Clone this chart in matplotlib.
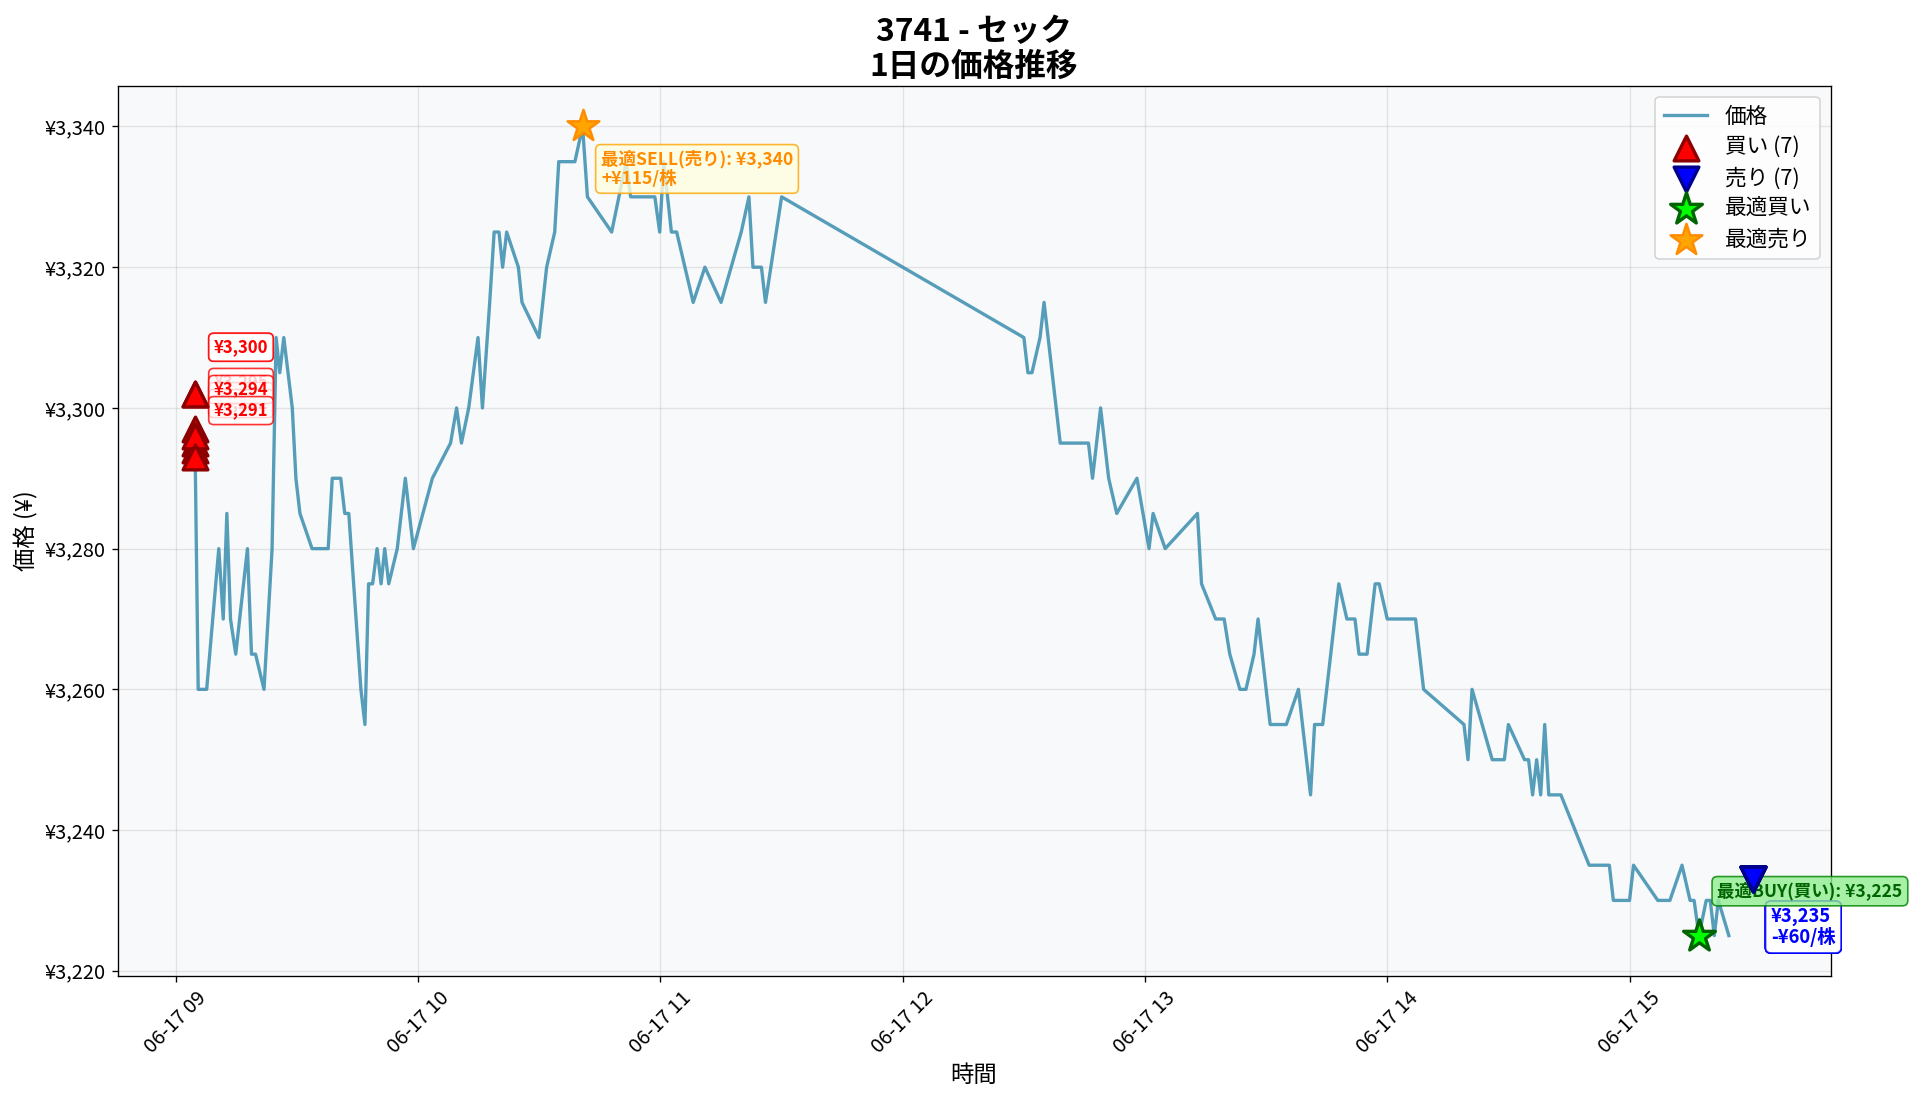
import matplotlib
matplotlib.use("Agg")
import matplotlib.pyplot as plt
import matplotlib.dates as mdates
from matplotlib.ticker import FuncFormatter
from matplotlib.transforms import offset_copy
import numpy as np
import pandas as pd

plt.rcParams['font.family'] = ['Noto Sans CJK JP', 'DejaVu Sans']

day_start = pd.Timestamp("2025-06-17 09:00")

# price series: minutes after 09:00, price in yen
price_min = [4.8, 5.5, 7.6, 10.6, 11.7, 12.6, 13.5, 14.8, 17.7, 18.7, 19.7, 21.8,
             23.8, 24.8, 25.7, 26.7, 28.8, 29.7, 30.7, 33.7, 37.7, 38.7, 40.8, 41.8,
             42.8, 45.8, 46.8, 47.7, 48.7, 49.8, 50.8, 51.7, 52.7, 54.8, 56.8, 58.8,
             63.5, 68.0, 69.5, 70.7, 72.5, 74.8, 75.9, 77.7, 78.8, 80.0, 80.9, 81.9,
             84.8, 85.7, 89.9, 91.8, 93.8, 94.8, 98.8, 100.7, 101.9, 107.9, 111.5, 112.6,
             118.6, 119.8, 120.8, 122.7, 124.0, 128.1, 131.0, 135.0, 140.0, 141.9, 142.9, 145.0,
             146.0, 150.0, 210.0, 211.0, 212.0, 214.0, 215.0, 219.0, 226.0, 227.0, 229.0, 231.0,
             233.0, 238.0, 241.0, 242.0, 245.0, 253.0, 254.0, 257.5, 259.6, 261.0, 263.5, 265.0,
             267.0, 268.0, 271.0, 275.0, 278.0, 281.0, 282.0, 284.0, 288.0, 290.0, 292.0, 293.0,
             295.0, 297.0, 298.0, 300.0, 307.0, 309.0, 319.0, 320.0, 321.0, 326.0, 329.0, 330.0,
             334.0, 335.0, 336.0, 337.0, 338.0, 339.0, 340.0, 343.0, 350.0, 355.0, 356.0, 360.0,
             361.0, 367.0, 370.0, 373.0, 375.0, 376.0, 377.2, 379.0, 380.0, 381.0, 382.0, 384.6]
price_yen = [3291, 3260, 3260, 3280, 3270, 3285, 3270, 3265, 3280, 3265, 3265, 3260,
             3280, 3310, 3305, 3310, 3300, 3290, 3285, 3280, 3280, 3290, 3290, 3285,
             3285, 3260, 3255, 3275, 3275, 3280, 3275, 3280, 3275, 3280, 3290, 3280,
             3290, 3295, 3300, 3295, 3300, 3310, 3300, 3315, 3325, 3325, 3320, 3325,
             3320, 3315, 3310, 3320, 3325, 3335, 3335, 3340, 3330, 3325, 3335, 3330,
             3330, 3325, 3335, 3325, 3325, 3315, 3320, 3315, 3325, 3330, 3320, 3320,
             3315, 3330, 3310, 3305, 3305, 3310, 3315, 3295, 3295, 3290, 3300, 3290,
             3285, 3290, 3280, 3285, 3280, 3285, 3275, 3270, 3270, 3265, 3260, 3260,
             3265, 3270, 3255, 3255, 3260, 3245, 3255, 3255, 3275, 3270, 3270, 3265,
             3265, 3275, 3275, 3270, 3270, 3260, 3255, 3250, 3260, 3250, 3250, 3255,
             3250, 3250, 3245, 3250, 3245, 3255, 3245, 3245, 3235, 3235, 3230, 3230,
             3235, 3230, 3230, 3235, 3230, 3230, 3225, 3230, 3230, 3225, 3230, 3225]

buy_min = [4.8, 4.8, 4.8, 4.8, 4.8, 4.8, 4.8]
buy_yen = [3300, 3300, 3295, 3293, 3292, 3294, 3291]
sell_min = [390.5, 390.5, 390.5, 390.5, 390.5, 390.5, 390.5]
sell_yen = [3235, 3235, 3235, 3235, 3235, 3235, 3235]
sell_diff = [-60, -60, -60, -60, -60, -60, -60]

best_buy_min, best_buy_yen = 377.2, 3225
best_sell_min, best_sell_yen, best_gain = 100.7, 3340, 115


def to_time(mins):
    return day_start + pd.to_timedelta(mins, unit="min")


t = to_time(price_min)
bt = to_time(buy_min)
st = to_time(sell_min)

fig, ax = plt.subplots(figsize=(16, 1103 / 120), dpi=120)
fig.subplots_adjust(left=0.0612, right=0.9534, top=0.922, bottom=0.1151)
ax.set_facecolor('#f8f9fa')

ax.plot(t, price_yen, color='#2E86AB', linewidth=2, alpha=0.8, label='価格')

# trade markers sit on the price (base of the triangle at the price)
up = offset_copy(ax.transData, fig=fig, y=8.5, units='points')
down = offset_copy(ax.transData, fig=fig, y=-8.5, units='points')

ax.scatter(bt, buy_yen, marker='^', s=220, c='red', edgecolors='darkred',
           linewidths=2, zorder=5, label=f'買い ({len(buy_yen)})', transform=up)
ax.scatter(st, sell_yen, marker='v', s=220, c='blue', edgecolors='darkblue',
           linewidths=2, zorder=5, label=f'売り ({len(sell_yen)})', transform=down)
ax.scatter([to_time(best_buy_min)], [best_buy_yen], marker='*', s=400, c='lime',
           edgecolors='darkgreen', linewidths=2, zorder=5, label='最適買い')
ax.scatter([to_time(best_sell_min)], [best_sell_yen], marker='*', s=400, c='orange',
           edgecolors='darkorange', linewidths=1.5, zorder=5, label='最適売り')

ax.update_datalim(np.column_stack([mdates.date2num(bt), buy_yen]))
ax.update_datalim(np.column_stack([mdates.date2num(st), sell_yen]))
ax.autoscale_view()

for x, p in zip(bt, buy_yen):
    ax.annotate(f'¥{p:,}', (x, p), xytext=(11, 31), textcoords='offset points',
                ha='left', va='bottom', fontsize=10, fontweight='bold', color='red',
                bbox=dict(boxstyle='round,pad=0.3', facecolor='white', edgecolor='red', alpha=0.8))

for x, p, d in zip(st, sell_yen, sell_diff):
    ax.annotate(f'¥{p:,}\n{"+" if d >= 0 else "-"}¥{abs(d)}/株', (x, p), xytext=(11, -25),
                textcoords='offset points', ha='left', va='top', fontsize=11,
                fontweight='bold', color='blue', linespacing=1.1,
                bbox=dict(boxstyle='round,pad=0.3', facecolor='white', edgecolor='blue', alpha=0.8))

ax.annotate(f'最適BUY(買い): ¥{best_buy_yen:,}', (to_time(best_buy_min), best_buy_yen),
            xytext=(11, 21), textcoords='offset points', ha='left', va='bottom',
            fontsize=10.5, fontweight='bold', color='darkgreen',
            bbox=dict(boxstyle='round,pad=0.3', facecolor='lightgreen', edgecolor='green', alpha=0.8))
ax.annotate(f'最適SELL(売り): ¥{best_sell_yen:,}\n+¥{best_gain}/株',
            (to_time(best_sell_min), best_sell_yen),
            xytext=(11, -14), textcoords='offset points', ha='left', va='top',
            fontsize=10.5, fontweight='bold', color='darkorange', linespacing=1.1,
            bbox=dict(boxstyle='round,pad=0.3', facecolor='lightyellow', edgecolor='orange', alpha=0.8))

ax.set_title('3741 - セック\n1日の価格推移', fontsize=19, fontweight='bold', linespacing=1.1)
ax.set_xlabel('時間', fontsize=14)
ax.set_ylabel('価格 (¥)', fontsize=14)
ax.yaxis.set_major_formatter(FuncFormatter(lambda v, _: f'¥{v:,.0f}'))
ax.xaxis.set_major_locator(mdates.HourLocator())
ax.xaxis.set_major_formatter(mdates.DateFormatter('%m-%d %H'))
ax.tick_params(labelsize=12)
plt.setp(ax.get_xticklabels(), rotation=45)
ax.grid(True, alpha=0.3)
ax.legend(loc='upper right', fontsize=13, labelspacing=0.4)

plt.savefig('out.png', dpi=120)
